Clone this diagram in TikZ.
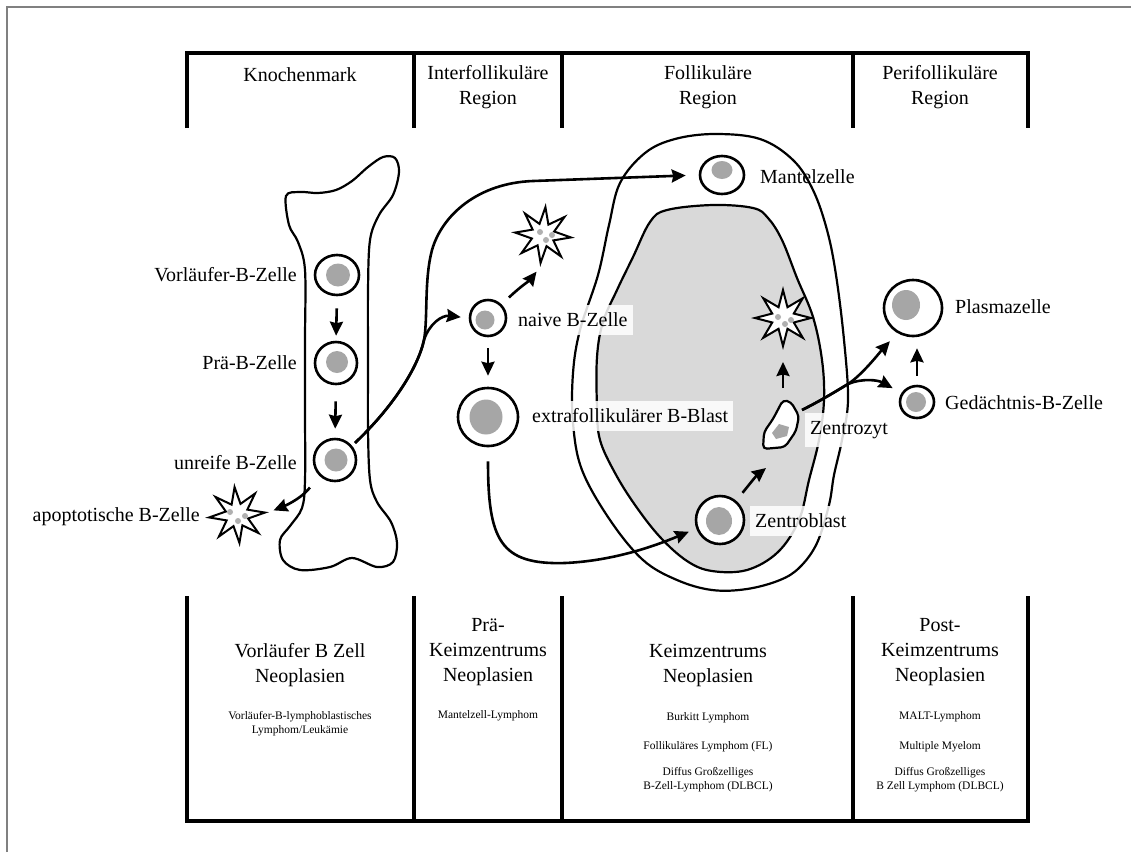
\documentclass[tikz,border=0pt]{standalone}
\usepackage{fontspec}
\setmainfont{Liberation Serif}
\usetikzlibrary{shapes.geometric,arrows.meta}
\definecolor{gcgray}{HTML}{D9D9D9}
\definecolor{nucgray}{HTML}{A6A6A6}
\definecolor{dotgray}{HTML}{B0B0B0}
\definecolor{framegray}{HTML}{808080}
\begin{document}
\begin{tikzpicture}[x=1pt,y=-1pt,
  arr/.style={line width=2.6pt,-{Stealth[length=14pt,width=13pt,inset=1.5pt]}},
  cellc/.style={ellipse,draw=black,line width=2.6pt,fill=white,inner sep=0pt},
  nuc/.style={ellipse,fill=nucgray,inner sep=0pt},
  apo/.style={star,star points=8,star point ratio=2.4,draw=black,line width=2pt,fill=white,inner sep=0pt,minimum size=56pt},
  dot/.style={circle,fill=dotgray,inner sep=0pt,minimum size=6pt},
  lab/.style={font=\fontsize{20}{24}\selectfont,inner sep=0pt},
  labbox/.style={font=\fontsize{20}{24}\selectfont,fill=white,fill opacity=0.85,text opacity=1,inner xsep=5pt,inner ysep=8pt},
  hdr/.style={font=\fontsize{20}{25}\selectfont,align=center,inner sep=0pt},
  small/.style={font=\fontsize{11.5}{14}\selectfont,align=center,inner sep=0pt},
  tline/.style={line width=3.5pt},
  outl/.style={line width=2.2pt}
]
\useasboundingbox (0,0) rectangle (1131,852);
% frame
\draw[framegray,line width=2pt] (7,852) -- (7,7) -- (1131,7);
% top table
\draw[tline] (187,128) -- (187,53) -- (1028,53) -- (1028,128);
\draw[tline] (414,53) -- (414,128);
\draw[tline] (562,53) -- (562,128);
\draw[tline] (853,53) -- (853,128);
\node[hdr] (h1) at (300,75) {Knochenmark};
\node[hdr] (h2) at (488,87.5) {Interfollikuläre\\Region};
\node[hdr] (h3) at (708,87.5) {Follikuläre\\Region};
\node[hdr] (h4) at (940,87.5) {Perifollikuläre\\Region};
% bottom table
\draw[tline] (187,596) -- (187,821) -- (1028,821) -- (1028,596);
\draw[tline] (414,596) -- (414,821);
\draw[tline] (562,596) -- (562,821);
\draw[tline] (853,596) -- (853,821);
\node[hdr] (b1) at (300,665) {Vorläufer B Zell\\Neoplasien};
\node[hdr] (b2) at (488,652) {Prä-\\Keimzentrums\\Neoplasien};
\node[hdr] (b3) at (708,665) {Keimzentrums\\Neoplasien};
\node[hdr] (b4) at (940,652) {Post-\\Keimzentrums\\Neoplasien};
\node[small] (t1) at (300,724) {Vorläufer-B-lymphoblastisches\\Lymphom/Leukämie};
\node[small] (t2) at (488,716) {Mantelzell-Lymphom};
\node[small] (t3) at (708,718) {Burkitt Lymphom};
\node[small] (t4) at (708,747) {Follikuläres Lymphom (FL)};
\node[small] (t5) at (708,780) {Diffus Großzelliges\\B-Zell-Lymphom (DLBCL)};
\node[small] (t6) at (940,717) {MALT-Lymphom};
\node[small] (t7) at (940,747) {Multiple Myelom};
\node[small] (t8) at (940,780) {Diffus Großzelliges\\B Zell Lymphom (DLBCL)};
% follicle
\draw[outl] plot[smooth cycle,tension=0.6] coordinates {(715,134) (760,139) (793,160) (813,190) (827,230) (836,275) (844,340) (848,400) (842,440) (834,475) (829,505) (817,543) (800,567) (780,580) (747,589) (712,590) (677,580) (643,560) (610,520) (582,470) (573,423) (573,373) (580,330) (598,275) (609,225) (620,183) (645,153) (675,139)};
\draw[outl,fill=gcgray] plot[smooth cycle,tension=0.6] coordinates {(713,205) (753,208) (768,218) (782,240) (797,278) (813,317) (822,360) (824,400) (819,440) (809,480) (799,520) (778,552) (747,570) (712,571) (687,561) (660,537) (635,505) (615,473) (600,440) (597,407) (597,357) (603,322) (617,290) (633,257) (650,222) (667,210)};
% bone
\draw[outl] plot[smooth cycle,tension=0.55] coordinates {(286,196) (300,192) (318,193) (336,190) (352,181) (368,167) (383,157) (395,158) (399,172) (393,195) (379,215) (370,240) (368,290) (368,360) (368,430) (370,480) (377,502) (391,522) (397,543) (393,562) (377,567) (352,558) (330,567) (300,570) (283,560) (280,540) (290,526) (302,508) (305,480) (305,410) (305,340) (305,270) (298,242) (289,225)};
% cells
\node[cellc,minimum width=44pt,minimum height=40pt] (vor) at (337,275) {};
\node[nuc,minimum width=24pt,minimum height=23pt] (vorn) at (338,275) {};
\node[cellc,minimum width=42pt,minimum height=42pt] (pra) at (336,363) {};
\node[nuc,minimum width=22pt,minimum height=22pt] (pran) at (337,362) {};
\node[cellc,minimum width=42pt,minimum height=42pt] (unr) at (335,460) {};
\node[nuc,minimum width=23pt,minimum height=23pt] (unrn) at (336,460) {};
\node[cellc,minimum width=36pt,minimum height=36pt] (nv) at (488,318) {};
\node[nuc,minimum width=19pt,minimum height=19pt] (nvn) at (485,320) {};
\node[cellc,minimum width=60pt,minimum height=58pt] (bl) at (488,417) {};
\node[nuc,minimum width=33pt,minimum height=35pt] (bln) at (486,417) {};
\node[cellc,minimum width=44pt,minimum height=38pt] (mz) at (722,175) {};
\node[nuc,minimum width=21pt,minimum height=18pt] (mzn) at (722,170) {};
\node[cellc,minimum width=48pt,minimum height=48pt] (zb) at (720,520) {};
\node[nuc,minimum width=26pt,minimum height=28pt] (zbn) at (719,521) {};
\node[cellc,minimum width=58pt,minimum height=56pt] (pl) at (913,308) {};
\node[nuc,minimum width=28pt,minimum height=30pt] (pln) at (906,305) {};
\node[cellc,minimum width=34pt,minimum height=32pt] (ged) at (917,402) {};
\node[nuc,minimum width=20pt,minimum height=20pt] (gedn) at (916,402) {};
% apoptotic cells
\node[apo,rotate=5] (s1) at (237,515) {};
\node[dot] (s1a) at (230,512) {};
\node[dot] (s1b) at (245,516) {};
\node[dot] (s1c) at (238,521) {};
\node[apo,rotate=-5] (s2) at (543,235) {};
\node[dot] (s2a) at (540,232) {};
\node[dot] (s2b) at (552,235) {};
\node[dot] (s2c) at (546,240) {};
\node[apo] (s3) at (783,318) {};
\node[dot] (s3a) at (778,317) {};
\node[dot] (s3b) at (791,320) {};
\node[dot] (s3c) at (785,324) {};
% Zentrozyt
\coordinate (zz) at (780,425);
\coordinate (zzs) at (766,468);
\coordinate (zzn) at (783,388);
\coordinate (zze) at (802,410);
\draw[outl,fill=white,rounded corners=4pt] (763,449) -- (764,432) -- (773,419) -- (783,400) -- (791,402) -- (799,416) -- (796,431) -- (785,447) -- cycle;
\fill[nucgray] (772,433) -- (779,424) -- (789,427) -- (787,436) -- (776,439) -- cycle;
% arrows
\draw[arr,shorten <=12pt,shorten >=5pt] (vor.south) -- (pra.north);
\draw[arr,shorten <=16pt,shorten >=9pt] (pra.south) -- (unr.north);
\draw[arr,shorten <=15pt,shorten >=5pt] (unr.225) .. controls (300,500) and (282,507) .. (s1.east);
\draw[arr,shorten <=4pt,shorten >=8pt] (unr.40) .. controls (392,408) and (418,368) .. (424,340) .. controls (429,324) and (442,315) .. (nv.west);
\draw[arr,shorten <=4pt,shorten >=13pt] (unr.40) .. controls (392,408) and (418,368) .. (424,340) .. controls (428,318) and (424,280) .. (432,250) .. controls (442,215) and (478,183) .. (533,181) -- (mz.west);
\draw[arr,shorten <=10pt,shorten >=6pt] (nv.45) .. controls (520,287) and (530,280) .. (s2.south);
\draw[arr,shorten <=11pt,shorten >=11pt] (nv.south) -- (bl.north);
\draw[arr,shorten <=14pt,shorten >=8pt] (bl.south) .. controls (488,540) and (500,565) .. (565,563) .. controls (610,561) and (650,548) .. (zb.200);
\draw[arr,shorten <=10pt] (zb.50) .. controls (748,486) and (756,476) .. (zzs);
\draw[arr,shorten >=12pt] (zzn) -- (s3.south);
\draw[arr,shorten >=11pt] (zze) .. controls (822,400) and (838,390) .. (848,384) .. controls (862,375) and (880,352) .. (pl.238);
\draw[arr,shorten >=10pt] (zze) .. controls (822,400) and (838,390) .. (848,384) .. controls (862,378) and (878,380) .. (ged.150);
\draw[arr,shorten <=9pt,shorten >=11pt] (ged.north) -- (ged.north |- pl.south);
% labels
\node[lab,anchor=east] (lvor) at (297,275) {Vorläufer-B-Zelle};
\node[lab,anchor=east] (lpra) at (297,363) {Prä-B-Zelle};
\node[lab,anchor=east] (lunr) at (297,463) {unreife B-Zelle};
\node[lab,anchor=east] (lapo) at (200,517) {apoptotische B-Zelle};
\node[labbox,anchor=west] (lnv) at (513,320) {naive B-Zelle};
\node[labbox,anchor=west] (lbl) at (527,416) {extrafollikulärer B-Blast};
\node[lab,anchor=west] (lmz) at (760,177) {Mantelzelle};
\node[labbox,anchor=west] (lzb) at (750,521) {Zentroblast};
\node[labbox,anchor=west] (lzz) at (805,430) {Zentrozyt};
\node[lab,anchor=west] (lpl) at (955,307) {Plasmazelle};
\node[lab,anchor=west] (lged) at (945,403) {Gedächtnis-B-Zelle};
\end{tikzpicture}
\end{document}
